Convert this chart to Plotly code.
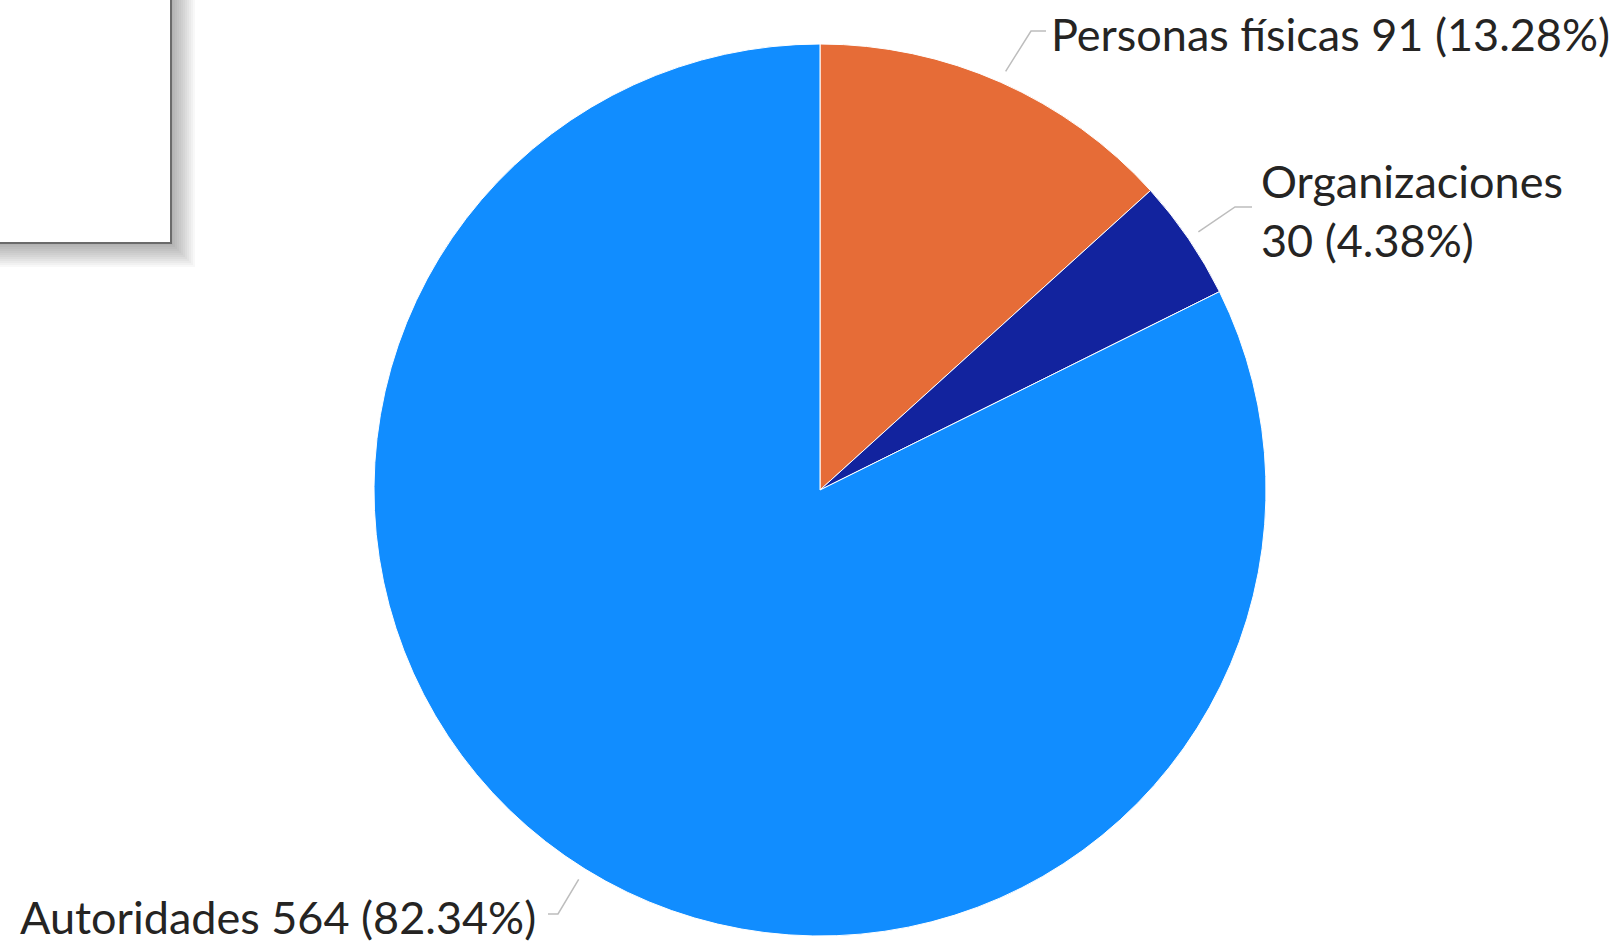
import numpy as np
import plotly.graph_objects as go

# data
categories = ["Personas físicas", "Organizaciones", "Autoridades"]
counts = [91, 30, 564]
colors = ["#E66C37", "#12239E", "#118DFF"]
label_texts = [
    "Personas físicas 91 (13.28%)",
    "Organizaciones<br>30 (4.38%)",
    "Autoridades 564 (82.34%)",
]

W, H = 1620, 943
cx, cy, R = 820, 490, 446  # pie centre / radius in px


def px(x):
    return x / W


def py(y):
    return 1 - y / H


fig = go.Figure(go.Pie(
    labels=categories,
    values=counts,
    sort=False,
    direction="clockwise",
    rotation=0,
    textinfo="none",
    hoverinfo="label+value+percent",
    marker=dict(colors=colors, line=dict(color="white", width=1)),
    domain=dict(x=[px(cx - R), px(cx + R)], y=[py(cy + R), py(cy - R)]),
    showlegend=False,
))

# leader lines: start on the pie edge at each slice's mid angle
vals = np.array(counts, dtype=float)
cum = np.cumsum(vals) / vals.sum() * 360
mid = cum - vals / vals.sum() * 360 / 2
elbows = [(1031, 31), (1235, 207), (558, 914)]
ends = [(1046, 31), (1252, 207), (548, 914)]
anchors = [(1049, 34, "left"), (1259, 210, "left"), (538, 917, "right")]

shapes = []
annotations = []
for i, a in enumerate(mid):
    t = np.deg2rad(a)
    sx = cx + (R + 12) * np.sin(t)
    sy = cy - (R + 12) * np.cos(t)
    ex, ey = elbows[i]
    fx, fy = ends[i]
    shapes.append(dict(
        type="path", xref="paper", yref="paper",
        path=f"M {px(sx)},{py(sy)} L {px(ex)},{py(ey)} L {px(fx)},{py(fy)}",
        line=dict(color="#BDBDBD", width=1.5),
    ))
    ax, ay, anc = anchors[i]
    annotations.append(dict(
        text=label_texts[i], x=px(ax), y=py(ay), xref="paper", yref="paper",
        xanchor=anc, yanchor="middle", align="left", showarrow=False,
        font=dict(family="Lato, Open Sans, sans-serif", size=45, color="#252423"),
    ))

# boxed panel with drop shadow in the top-left corner
for k in range(12, 0, -1):
    shapes.append(dict(
        type="rect", xref="paper", yref="paper",
        x0=px(-20), x1=px(171 + 2 * k), y0=py(243 + 2 * k), y1=py(-20),
        fillcolor="rgba(0,0,0,0.028)", line=dict(width=0), layer="below",
    ))
shapes.append(dict(
    type="rect", xref="paper", yref="paper",
    x0=px(-20), x1=px(171), y0=py(243), y1=py(-20),
    fillcolor="white", line=dict(color="#6B6B6B", width=2), layer="below",
))

fig.update_layout(
    width=W, height=H,
    margin=dict(l=0, r=0, t=0, b=0),
    paper_bgcolor="white",
    plot_bgcolor="white",
    shapes=shapes,
    annotations=annotations,
)

fig.write_html("out.html", config={"displayModeBar": False},
               post_script="document.body.style.margin='0';")
